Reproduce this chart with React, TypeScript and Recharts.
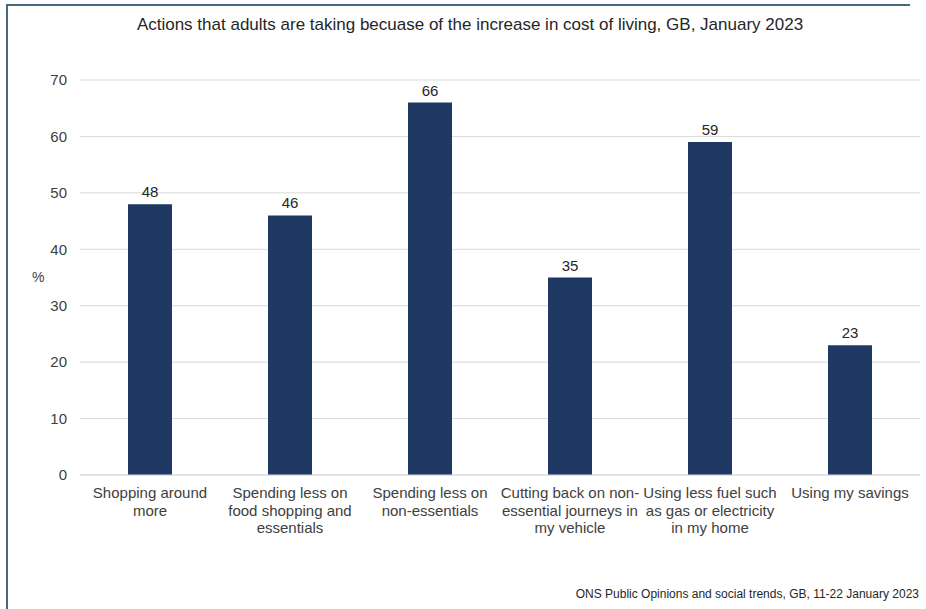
import { BarChart, Bar, XAxis, YAxis, CartesianGrid, LabelList } from 'recharts';

const categories = [
  'Shopping around more',
  'Spending less on food shopping and essentials',
  'Spending less on non-essentials',
  'Cutting back on non-essential journeys in my vehicle',
  'Using less fuel such as gas or electricity in my home',
  'Using my savings',
];

// how the category names wrap under the axis
const tickLines = [
  ['Shopping around', 'more'],
  ['Spending less on', 'food shopping and', 'essentials'],
  ['Spending less on', 'non-essentials'],
  ['Cutting back on non-', 'essential journeys in', 'my vehicle'],
  ['Using less fuel such', 'as gas or electricity', 'in my home'],
  ['Using my savings'],
];

const values = [48, 46, 66, 35, 59, 23];
const yTicks = [0, 10, 20, 30, 40, 50, 60, 70];

const title = 'Actions that adults are taking becuase of the increase in cost of living, GB, January 2023';
const source = 'ONS Public Opinions and social trends, GB, 11-22 January 2023';

const FONT = '"Liberation Sans", Arial, sans-serif';
const TEXT = '#404040';

const data = categories.map((name, i) => ({ name, idx: i, value: values[i] }));

function CategoryTick(props: any) {
  const { x, y, payload } = props;
  const lines = tickLines[payload.index] ?? [payload.value];
  return (
    <text x={x} y={y + 15} textAnchor="middle" fill={TEXT} fontSize={15} fontFamily={FONT}>
      {lines.map((l: string, i: number) => (
        <tspan key={i} x={x} dy={i === 0 ? 0 : 17.6}>{l}</tspan>
      ))}
    </text>
  );
}

export default function App() {
  return (
    <div style={{ position: 'fixed', left: 0, top: 0, width: 926, height: 609, overflow: 'hidden', background: '#fff', fontFamily: FONT }}>
      <div style={{ position: 'absolute', left: 0, width: 940, top: 15, textAlign: 'center', fontSize: 17, color: '#262626', whiteSpace: 'nowrap' }}>
        {title}
      </div>
      <div style={{ position: 'absolute', right: 7, top: 587, fontSize: 12, color: '#262626', whiteSpace: 'nowrap' }}>
        {source}
      </div>
      <div style={{ position: 'absolute', left: 0, top: 0 }}>
        <BarChart width={926} height={609} data={data} margin={{ top: 80, right: 6, left: 30, bottom: 0 }}>
          <CartesianGrid vertical={false} stroke="#d9d9d9" />
          <XAxis
            dataKey="name"
            tick={<CategoryTick />}
            tickLine={false}
            axisLine={{ stroke: '#d9d9d9' }}
            interval={0}
            height={134}
          />
          <YAxis
            width={50}
            domain={[0, 70]}
            ticks={yTicks}
            tickLine={false}
            axisLine={false}
            tickMargin={7}
            tick={{ fill: TEXT, fontSize: 15, fontFamily: FONT }}
            label={{ value: '%', position: 'insideLeft', offset: 2, fill: TEXT, fontSize: 14, fontFamily: FONT }}
          />
          <Bar dataKey="value" fill="#203864" barSize={44} isAnimationActive={false}>
            <LabelList dataKey="value" position="top" offset={7} fill="#262626" fontSize={15} fontFamily={FONT} />
          </Bar>
        </BarChart>
      </div>
      <div style={{ position: 'absolute', left: 6, top: 4, width: 2, height: 605, background: '#46697d' }} />
      <div style={{ position: 'absolute', left: 6, top: 4, width: 904, height: 2, background: '#46697d' }} />
    </div>
  );
}
